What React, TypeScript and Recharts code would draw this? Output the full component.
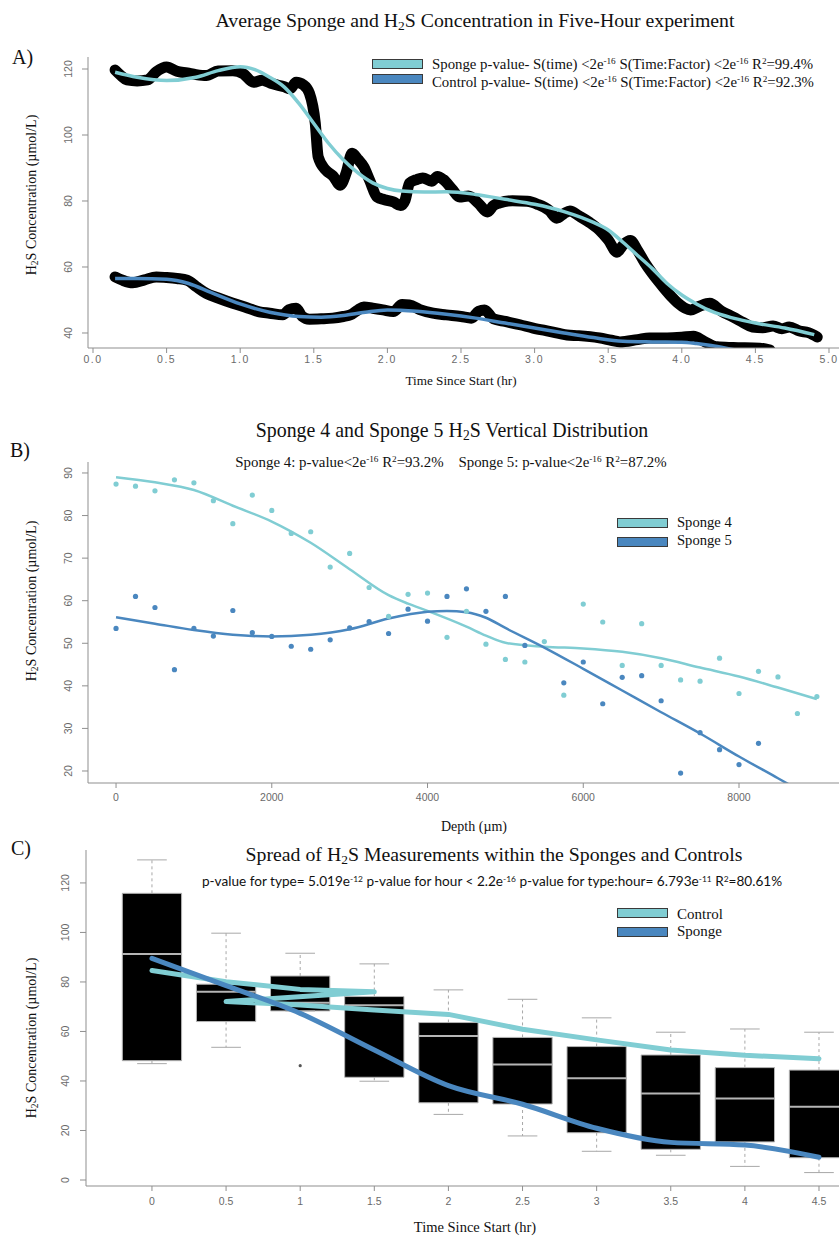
import React from 'react';
import {
  ComposedChart,
  Line,
  LineChart,
  ReferenceArea,
  ReferenceLine,
  Scatter,
  XAxis,
  YAxis,
} from 'recharts';

const TEAL = '#80cdd3';
const BLUE = '#4a87bf';
const AXIS = '#8f8f8f';
const TICK_TXT = '#6a6a6a';
const SERIF = '"Liberation Serif", "Times New Roman", serif';
const SANS = '"Liberation Sans", Arial, sans-serif';
const CALIBRI = 'Lato, "Open Sans", sans-serif';

// ---- Panel A: five-hour averages (hours vs µmol/L)
const A_SPONGE_RAW_T = [0.15, 0.19, 0.23, 0.3, 0.37, 0.43, 0.5, 0.57, 0.64, 0.7, 0.77, 0.85, 0.95, 1.02, 1.09, 1.15, 1.22, 1.3, 1.34, 1.38, 1.43, 1.47, 1.51, 1.53, 1.58, 1.63, 1.68, 1.72, 1.76, 1.8, 1.84, 1.88, 1.93, 1.98, 2.04, 2.09, 2.12, 2.15, 2.2, 2.24, 2.3, 2.34, 2.38, 2.44, 2.49, 2.55, 2.62, 2.68, 2.72, 2.76, 2.85, 2.95, 3.02, 3.1, 3.15, 3.2, 3.24, 3.3, 3.37, 3.44, 3.5, 3.56, 3.6, 3.65, 3.7, 3.75, 3.8, 3.87, 3.93, 3.97, 4.06, 4.12, 4.19, 4.27, 4.35, 4.42, 4.48, 4.55, 4.62, 4.68, 4.73, 4.8, 4.86, 4.92];
const A_SPONGE_RAW_V = [119.7, 118.0, 116.7, 116.4, 116.7, 119.2, 120.6, 119.3, 118.8, 118.3, 118.0, 119.4, 119.5, 118.6, 116.0, 116.6, 115.5, 114.6, 114.0, 116.0, 115.2, 112.7, 103.6, 93.3, 89.4, 87.6, 84.8, 88.5, 94.5, 92.6, 90.3, 86.2, 81.2, 80.4, 79.7, 78.6, 80.2, 85.4, 86.5, 87.0, 86.0, 87.4, 86.5, 83.6, 81.2, 81.5, 79.2, 76.7, 78.6, 79.4, 80.1, 79.9, 79.0, 77.1, 74.8, 76.2, 77.0, 75.5, 73.6, 71.2, 68.2, 64.5, 66.6, 68.0, 65.0, 61.2, 58.0, 54.1, 51.0, 49.2, 47.0, 48.1, 49.0, 46.6, 44.8, 43.1, 41.8, 41.6, 42.1, 41.3, 41.8, 40.6, 40.1, 38.8];
const A_CONTROL_RAW_T = [0.15, 0.2, 0.27, 0.35, 0.43, 0.5, 0.57, 0.64, 0.7, 0.77, 0.85, 0.95, 1.05, 1.13, 1.2, 1.29, 1.33, 1.38, 1.42, 1.47, 1.55, 1.63, 1.7, 1.75, 1.8, 1.84, 1.9, 1.97, 2.04, 2.1, 2.15, 2.22, 2.31, 2.4, 2.5, 2.57, 2.62, 2.66, 2.72, 2.8, 2.9, 2.99, 3.1, 3.22, 3.3, 3.44, 3.52, 3.58, 3.7, 3.78, 3.9, 4.0, 4.08, 4.15, 4.24, 4.35, 4.53, 4.6];
const A_CONTROL_RAW_V = [57.0, 56.0, 55.2, 56.1, 57.0, 56.8, 56.5, 56.0, 54.1, 52.0, 50.6, 49.0, 47.6, 46.4, 46.0, 45.5, 47.0, 47.5, 45.1, 44.2, 44.3, 44.5, 45.0, 45.5, 47.0, 47.9, 47.5, 47.0, 46.5, 48.6, 48.5, 47.1, 46.0, 45.5, 45.0, 44.5, 46.6, 47.0, 44.3, 43.5, 42.5, 41.5, 40.5, 39.4, 39.2, 38.5, 37.8, 37.3, 38.0, 38.5, 38.5, 38.7, 39.0, 37.5, 35.8, 35.6, 35.4, 34.8];
const A_SPONGE_FIT_T = [0.15, 0.3, 0.5, 0.7, 0.85, 1.0, 1.1, 1.2, 1.3, 1.4, 1.5, 1.6, 1.7, 1.8, 1.9, 2.0, 2.1, 2.25, 2.4, 2.6, 2.8, 3.0, 3.2, 3.4, 3.5, 3.6, 3.7, 3.8, 3.9, 4.0, 4.1, 4.2, 4.35, 4.5, 4.7, 4.9];
const A_SPONGE_FIT_V = [119, 117.5, 116.5, 117.5, 119.5, 120.7, 119.8, 117.5, 114.5, 109.5, 103.5, 97.5, 92.5, 88.5, 85.5, 83.8, 83, 82.7, 82.8, 82, 80.5, 79, 76.8, 73.5, 71.2, 67.5, 63.5, 59.5, 55, 51.5, 48.8, 46.6, 44.5, 43, 41.5, 39.5];
const A_CONTROL_FIT_T = [0.15, 0.3, 0.5, 0.65, 0.8, 1.0, 1.2, 1.4, 1.55, 1.7, 1.85, 2.0, 2.2, 2.4, 2.6, 2.8, 3.0, 3.2, 3.4, 3.6, 3.8, 4.0, 4.1, 4.2, 4.3, 4.4, 4.5];
const A_CONTROL_FIT_V = [56.5, 56.5, 56.3, 55, 52.3, 48.8, 46.3, 45, 44.8, 45.3, 46.3, 47, 46.6, 45.7, 44.5, 43, 41.5, 40, 38.6, 37.5, 37.3, 37.2, 36.8, 36.2, 35.4, 34.5, 33.5];
const A_X_TICKS = [0, 0.5, 1, 1.5, 2, 2.5, 3, 3.5, 4, 4.5, 5];
const A_Y_TICKS = [40, 60, 80, 100, 120];

// ---- Panel B: vertical distribution (depth µm vs µmol/L)
const B_DEPTH = [0, 250, 500, 750, 1000, 1250, 1500, 1750, 2000, 2250, 2500, 2750, 3000, 3250, 3500, 3750, 4000, 4250, 4500, 4750, 5000, 5250, 5500, 5750, 6000, 6250, 6500, 6750, 7000, 7250, 7500, 7750, 8000, 8250, 8500, 8750, 9000];
const B_SPONGE4 = [87.4, 86.9, 85.8, 88.4, 87.7, 83.5, 78.1, 84.8, 81.2, 75.8, 76.2, 67.9, 71.1, 63.1, 56.3, 61.5, 61.8, 51.4, 57.5, 49.8, 46.2, 45.6, 50.4, 37.8, 59.2, 55.0, 44.8, 54.6, 44.8, 41.4, 41.1, 46.5, 38.2, 43.4, 42.1, 33.5, 37.5];
const B_SPONGE5_DEPTH = [0, 250, 500, 750, 1000, 1250, 1500, 1750, 2000, 2250, 2500, 2750, 3000, 3250, 3500, 3750, 4000, 4250, 4500, 4750, 5000, 5250, 5750, 6000, 6250, 6500, 6750, 7000, 7250, 7500, 7750, 8000, 8250];
const B_SPONGE5 = [53.5, 61.0, 58.4, 43.8, 53.5, 51.7, 57.7, 52.5, 51.6, 49.3, 48.6, 50.8, 53.6, 55.1, 52.3, 58.0, 55.2, 61.0, 62.8, 57.5, 61.0, 49.5, 40.7, 45.6, 35.8, 42.0, 42.4, 36.5, 19.5, 29.0, 25.0, 21.5, 26.5];
const B_FIT4_D = [0, 500, 1000, 1500, 2000, 2500, 3000, 3500, 3750, 4000, 4500, 4750, 5000, 5500, 6000, 6500, 7000, 7500, 8000, 8500, 9000];
const B_FIT4_V = [89, 87.8, 86, 82.3, 78.6, 73.6, 67.4, 61.3, 59.3, 57.6, 53.9, 51.8, 50.1, 49.2, 48.8, 48, 46.5, 44.3, 42.2, 39.6, 36.9];
const B_FIT5_D = [0, 500, 1000, 1500, 2000, 2500, 3000, 3500, 4000, 4250, 4500, 4750, 5000, 5500, 6000, 6500, 7000, 7500, 8000, 8500, 8800];
const B_FIT5_V = [56.1, 54.6, 53.1, 52, 51.6, 52, 53.3, 55.8, 57.4, 57.6, 57.3, 56, 53.6, 49, 44, 38.9, 33.8, 28.8, 23.4, 18.3, 15.2];
const B_X_TICKS = [0, 2000, 4000, 6000, 8000];
const B_Y_TICKS = [20, 30, 40, 50, 60, 70, 80, 90];

// ---- Panel C: boxplots per hour + fitted means
const C_HOURS = [0, 0.5, 1, 1.5, 2, 2.5, 3, 3.5, 4, 4.5];
const C_WHISK_HI = [129.3, 99.7, 91.6, 87.3, 76.8, 73.0, 65.5, 59.7, 61.0, 59.7];
const C_Q3 = [115.8, 79.1, 82.4, 74.1, 63.6, 57.6, 53.9, 50.5, 45.4, 44.4];
const C_MEDIAN = [91.3, 76.0, 71.6, 70.6, 58.2, 46.7, 41.1, 34.9, 32.9, 29.6];
const C_Q1 = [48.2, 64.0, 68.3, 41.5, 31.2, 30.7, 19.1, 12.4, 15.4, 9.0];
const C_WHISK_LO = [47.0, 53.6, 68.3, 39.9, 26.5, 17.8, 11.6, 10.0, 5.5, 3.0];
const C_OUTLIER_T = [1];
const C_OUTLIER_V = [46.2];
const C_SPONGE = [89.5, 78.5, 67.3, 52.5, 38.1, 30.6, 20.9, 15.2, 14.1, 9.2];
const C_CONTROL_T = [0, 0.5, 1, 1.5, 0.5, 1, 1.5, 2, 2.5, 3, 3.5, 4, 4.5];
const C_CONTROL_V = [84.6, 80.1, 77.0, 76.0, 72.1, 70.7, 68.7, 66.9, 60.9, 56.6, 52.5, 50.4, 49.0];
const C_Y_TICKS = [0, 20, 40, 60, 80, 100, 120];

const BOX_HALF = 0.2;
const CAP_HALF = 0.1;

const zip = (xs: number[], ys: number[]) => xs.map((x, i) => ({ x, y: ys[i] }));

const aSpongeRaw = zip(A_SPONGE_RAW_T, A_SPONGE_RAW_V);
const aControlRaw = zip(A_CONTROL_RAW_T, A_CONTROL_RAW_V);
const aSpongeFit = zip(A_SPONGE_FIT_T, A_SPONGE_FIT_V);
const aControlFit = zip(A_CONTROL_FIT_T, A_CONTROL_FIT_V);
const bS4 = zip(B_DEPTH, B_SPONGE4);
const bS5 = zip(B_SPONGE5_DEPTH, B_SPONGE5);
const bFit4 = zip(B_FIT4_D, B_FIT4_V);
const bFit5 = zip(B_FIT5_D, B_FIT5_V);
const cSponge = zip(C_HOURS, C_SPONGE);
const cControl = zip(C_CONTROL_T, C_CONTROL_V);
const cOutliers = zip(C_OUTLIER_T, C_OUTLIER_V);

const xTick = { fill: TICK_TXT, fontSize: 10.5, fontFamily: SANS };

function RotTick(props: any) {
  const { x, y, payload } = props;
  return (
    <text x={x} y={y} transform={`rotate(-90 ${x} ${y})`} textAnchor="middle" fill={TICK_TXT} fontSize={10.5} fontFamily={SANS}>
      {payload.value}
    </text>
  );
}

function Txt({ x, y, size, family = SERIF, center = false, rotate = false, color = '#111', children }: any) {
  const tx = center || rotate ? '-50%' : '0';
  return (
    <div
      style={{
        position: 'absolute',
        left: x,
        top: y,
        fontSize: size,
        fontFamily: family,
        color,
        whiteSpace: 'nowrap',
        lineHeight: 1,
        transform: `translate(${tx}, -50%)${rotate ? ' rotate(-90deg)' : ''}`,
      }}
    >
      {children}
    </div>
  );
}

const Sub = ({ children }: any) => <span style={{ fontSize: '0.68em', verticalAlign: '-0.22em' }}>{children}</span>;
const Sup = ({ children }: any) => <span style={{ fontSize: '0.62em', verticalAlign: '0.5em' }}>{children}</span>;

function Swatch({ x, y, color }: any) {
  return (
    <div style={{ position: 'absolute', left: x, top: y, width: 49, height: 8, background: color, border: '1px solid #3a3a3a' }} />
  );
}

const H2S = () => (
  <>
    H<Sub>2</Sub>S
  </>
);

const yTitle = (
  <>
    <H2S /> Concentration (µmol/L)
  </>
);

export default function App() {
  return (
    <div style={{ position: 'absolute', left: 0, top: 0, width: 839, height: 1237, background: '#fff', overflow: 'hidden' }}>
      {/* Panel A */}
      <div style={{ position: 'absolute', left: 0, top: 0 }}>
        <LineChart width={839} height={390} margin={{ top: 57, right: 0, bottom: 12, left: 0 }}>
          <XAxis
            type="number"
            dataKey="x"
            domain={[-0.034, 5.068]}
            ticks={A_X_TICKS}
            interval={0}
            allowDataOverflow
            height={30}
            stroke={AXIS}
            tickSize={5}
            tickMargin={3}
            tick={{ ...xTick, letterSpacing: 1.5 }}
            tickFormatter={(v: number) => v.toFixed(1)}
          />
          <YAxis
            type="number"
            dataKey="y"
            domain={[35.45, 123.64]}
            ticks={A_Y_TICKS}
            interval={0}
            allowDataOverflow
            width={88}
            stroke={AXIS}
            tickSize={6}
            tickMargin={10}
            tick={<RotTick />}
          />
          <Line data={aSpongeRaw} dataKey="y" type="monotone" stroke="#000" strokeWidth={11} strokeLinejoin="round" strokeLinecap="round" dot={false} isAnimationActive={false} />
          <Line data={aControlRaw} dataKey="y" type="monotone" stroke="#000" strokeWidth={11} strokeLinejoin="round" strokeLinecap="round" dot={false} isAnimationActive={false} />
          <Line data={aSpongeFit} dataKey="y" type="monotone" stroke={TEAL} strokeWidth={3.5} dot={false} isAnimationActive={false} />
          <Line data={aControlFit} dataKey="y" type="monotone" stroke={BLUE} strokeWidth={3.5} dot={false} isAnimationActive={false} />
        </LineChart>
      </div>

      {/* Panel B */}
      <div style={{ position: 'absolute', left: 0, top: 400 }}>
        <ComposedChart width={839} height={430} margin={{ top: 62, right: 0, bottom: 17, left: 0 }}>
          <XAxis
            type="number"
            dataKey="x"
            domain={[-360, 9284]}
            ticks={B_X_TICKS}
            interval={0}
            allowDataOverflow
            height={30}
            stroke={AXIS}
            tickSize={5}
            tickMargin={6}
            tick={xTick}
          />
          <YAxis
            type="number"
            dataKey="y"
            domain={[17.18, 92.58]}
            ticks={B_Y_TICKS}
            interval={0}
            allowDataOverflow
            width={88}
            stroke={AXIS}
            tickSize={6}
            tickMargin={10}
            tick={<RotTick />}
          />
          <Line data={bFit4} dataKey="y" type="monotone" stroke={TEAL} strokeWidth={2.5} dot={false} isAnimationActive={false} />
          <Line data={bFit5} dataKey="y" type="monotone" stroke={BLUE} strokeWidth={2.5} dot={false} isAnimationActive={false} />
          <Scatter data={bS4} dataKey="y" isAnimationActive={false} shape={(p: any) => <circle cx={p.cx} cy={p.cy} r={2.6} fill={TEAL} />} />
          <Scatter data={bS5} dataKey="y" isAnimationActive={false} shape={(p: any) => <circle cx={p.cx} cy={p.cy} r={2.6} fill={BLUE} />} />
        </ComposedChart>
      </div>

      {/* Panel C */}
      <div style={{ position: 'absolute', left: 0, top: 830 }}>
        <ComposedChart width={839} height={407} margin={{ top: 20, right: 0, bottom: 21, left: 0 }}>
          <XAxis
            type="number"
            dataKey="x"
            domain={[-0.445, 4.635]}
            ticks={C_HOURS}
            interval={0}
            allowDataOverflow
            height={30}
            stroke={AXIS}
            tickSize={5}
            tickMargin={7}
            tick={xTick}
          />
          <YAxis
            type="number"
            dataKey="y"
            domain={[-2.42, 133.3]}
            ticks={C_Y_TICKS}
            interval={0}
            allowDataOverflow
            width={86}
            stroke={AXIS}
            tickSize={6}
            tickMargin={11}
            tick={<RotTick />}
          />
          {C_HOURS.map((t, i) => (
            <ReferenceLine key={`wh${i}`} segment={[{ x: t, y: C_Q3[i] }, { x: t, y: C_WHISK_HI[i] }]} stroke="#a8a8a8" strokeDasharray="3 3" ifOverflow="hidden" />
          ))}
          {C_HOURS.map((t, i) => (
            <ReferenceLine key={`wl${i}`} segment={[{ x: t, y: C_Q1[i] }, { x: t, y: C_WHISK_LO[i] }]} stroke="#a8a8a8" strokeDasharray="3 3" ifOverflow="hidden" />
          ))}
          {C_HOURS.map((t, i) => (
            <ReferenceLine key={`ch${i}`} segment={[{ x: t - CAP_HALF, y: C_WHISK_HI[i] }, { x: t + CAP_HALF, y: C_WHISK_HI[i] }]} stroke="#a8a8a8" ifOverflow="hidden" />
          ))}
          {C_HOURS.map((t, i) => (
            <ReferenceLine key={`cl${i}`} segment={[{ x: t - CAP_HALF, y: C_WHISK_LO[i] }, { x: t + CAP_HALF, y: C_WHISK_LO[i] }]} stroke="#a8a8a8" ifOverflow="hidden" />
          ))}
          {C_HOURS.map((t, i) => (
            <ReferenceArea key={`bx${i}`} x1={t - BOX_HALF} x2={t + BOX_HALF} y1={C_Q1[i]} y2={C_Q3[i]} fill="#000" fillOpacity={1} stroke="#b5b5b5" strokeWidth={1} ifOverflow="hidden" />
          ))}
          {C_HOURS.map((t, i) => (
            <ReferenceLine key={`md${i}`} segment={[{ x: t - BOX_HALF, y: C_MEDIAN[i] }, { x: t + BOX_HALF, y: C_MEDIAN[i] }]} stroke="#b5b5b5" strokeWidth={2} ifOverflow="hidden" />
          ))}
          <Scatter data={cOutliers} dataKey="y" isAnimationActive={false} shape={(p: any) => <circle cx={p.cx} cy={p.cy} r={1.6} fill="#555" />} />
          <Line data={cControl} dataKey="y" type="linear" stroke={TEAL} strokeWidth={5} strokeLinejoin="round" strokeLinecap="round" dot={false} isAnimationActive={false} />
          <Line data={cSponge} dataKey="y" type="monotone" stroke={BLUE} strokeWidth={5} strokeLinecap="round" dot={false} isAnimationActive={false} />
        </ComposedChart>
      </div>

      {/* Panel A text */}
      <Txt x={475} y={22} size={19.8} center>
        Average Sponge and <H2S /> Concentration in Five-Hour experiment
      </Txt>
      <Txt x={12} y={57} size={20}>A)</Txt>
      <Txt x={33} y={195} size={14} rotate>{yTitle}</Txt>
      <Txt x={461} y={381} size={13.2} center>Time Since Start (hr)</Txt>
      <Swatch x={372} y={59} color={TEAL} />
      <Swatch x={372} y={74} color={BLUE} />
      <Txt x={432} y={63.5} size={14.8}>
        Sponge p-value- S(time) &lt;2e<Sup>-16</Sup> S(Time:Factor) &lt;2e<Sup>-16</Sup> R<Sup>2</Sup>=99.4%
      </Txt>
      <Txt x={432} y={82} size={14.8}>
        Control p-value- S(time) &lt;2e<Sup>-16</Sup> S(Time:Factor) &lt;2e<Sup>-16</Sup> R<Sup>2</Sup>=92.3%
      </Txt>

      {/* Panel B text */}
      <Txt x={452} y={432} size={19.9} center>
        Sponge 4 and Sponge 5 <H2S /> Vertical Distribution
      </Txt>
      <Txt x={451} y={461.5} size={14.9} center>
        Sponge 4: p-value&lt;2e<Sup>-16</Sup> R<Sup>2</Sup>=93.2%&nbsp;&nbsp;&nbsp;&nbsp;Sponge 5: p-value&lt;2e<Sup>-16</Sup> R<Sup>2</Sup>=87.2%
      </Txt>
      <Txt x={10} y={450} size={20}>B)</Txt>
      <Txt x={33} y={601} size={14} rotate>{yTitle}</Txt>
      <Txt x={474} y={827} size={14} center>Depth (µm)</Txt>
      <Swatch x={617} y={518} color={TEAL} />
      <Swatch x={617} y={537} color={BLUE} />
      <Txt x={677} y={522} size={14.6}>Sponge 4</Txt>
      <Txt x={677} y={540} size={14.6}>Sponge 5</Txt>

      {/* Panel C text */}
      <Txt x={494} y={856} size={19.8} center>
        Spread of <H2S /> Measurements within the Sponges and Controls
      </Txt>
      <Txt x={492} y={882} size={13.6} family={CALIBRI} center>
        p-value for type= 5.019e<Sup>-12</Sup> p-value for hour &lt; 2.2e<Sup>-16</Sup> p-value for type:hour= 6.793e<Sup>-11</Sup> R<Sup>2</Sup>=80.61%
      </Txt>
      <Txt x={11} y={848} size={20}>C)</Txt>
      <Txt x={33} y={1038} size={14} rotate>{yTitle}</Txt>
      <Txt x={475} y={1227} size={14.5} center>Time Since Start (hr)</Txt>
      <Swatch x={617} y={908} color={TEAL} />
      <Swatch x={617} y={927} color={BLUE} />
      <Txt x={677} y={914} size={15}>Control</Txt>
      <Txt x={677} y={931} size={15}>Sponge</Txt>
    </div>
  );
}
